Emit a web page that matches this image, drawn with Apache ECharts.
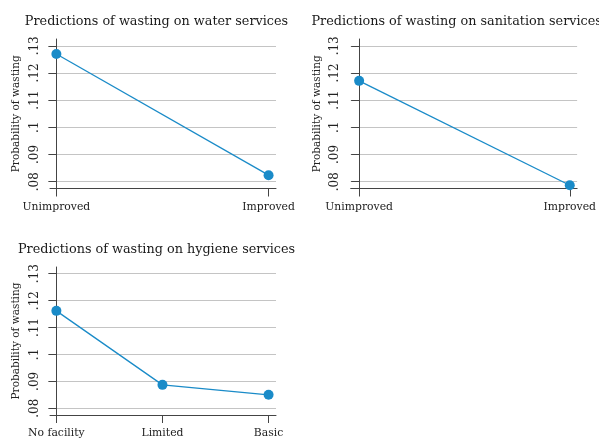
<!DOCTYPE html>
<html>
<head>
<meta charset="utf-8">
<script src="https://cdn.jsdelivr.net/npm/echarts@6/dist/echarts.min.js"></script>
<style>
  html, body { margin: 0; padding: 0; background: #fff; }
  #chart { width: 599px; height: 439px; }
</style>
</head>
<body>
<div id="chart"></div>
<script>
// titles of the three panels
const titles = [
  'Predictions of wasting on water services',
  'Predictions of wasting on sanitation services',
  'Predictions of wasting on hygiene services'
]
// categories and predicted probabilities
const waterCats = ['Unimproved', 'Improved']
const waterVals = [0.127, 0.0824]
const sanitCats = ['Unimproved', 'Improved']
const sanitVals = [0.1171, 0.0787]
const hygieneCats = ['No facility', 'Limited', 'Basic']
const hygieneVals = [0.1162, 0.0887, 0.0850]
// y tick values
const yTicks = [0.08, 0.09, 0.10, 0.11, 0.12, 0.13]
const yName = 'Probability of wasting'

const blue = '#1a8bc8'
const serif = 'DejaVu Serif'

let myChart = echarts.init(document.getElementById('chart'))

//each panel: grid position and x range
const panels = [
  { cats: waterCats, vals: waterVals, grid: { left: 50, top: 39, width: 226, height: 149.5 }, xmin: -0.03, xmax: 1.035 },
  { cats: sanitCats, vals: sanitVals, grid: { left: 350.7, top: 39, width: 227.3, height: 149.5 }, xmin: -0.04, xmax: 1.035 },
  { cats: hygieneCats, vals: hygieneVals, grid: { left: 50, top: 267, width: 226, height: 149.5 }, xmin: -0.03, xmax: 1.035 }
]

//x position of each category, spread over 0..1
function xPos(n, i) {
  return n === 1 ? 0 : i / (n - 1)
}

const fmtY = v => String(Math.round(v * 100) / 100).replace(/^0/, '')

const titleStyle = { fontFamily: serif, fontSize: 12.8, fontWeight: 'normal', color: '#1a1a1a' }

myChart.setOption({
  animation: false,
  title: [
    { text: titles[0], left: 151.5, top: 10, textAlign: 'center', textStyle: titleStyle },
    { text: titles[1], left: 306.5, top: 10, textStyle: titleStyle },
    { text: titles[2], left: 151.5, top: 238, textAlign: 'center', textStyle: titleStyle }
  ],
  grid: panels.map(p => Object.assign({ containLabel: false }, p.grid)),
  xAxis: panels.map((p, k) => ({
    type: 'value',
    gridIndex: k,
    min: p.xmin,
    max: p.xmax,
    axisLine: { show: true, onZero: false, lineStyle: { color: '#444', width: 1 } },
    axisTick: { show: true, length: 8, customValues: p.cats.map((c, i) => xPos(p.cats.length, i)),
      lineStyle: { color: '#444' } },
    axisLabel: {
      customValues: p.cats.map((c, i) => xPos(p.cats.length, i)),
      formatter: v => p.cats[Math.round(v * (p.cats.length - 1))],
      fontFamily: serif, fontSize: 10.8, color: '#222', margin: 13
    },
    splitLine: { show: false }
  })),
  yAxis: panels.map((p, k) => ({
    type: 'value',
    gridIndex: k,
    min: 0.0775,
    max: 0.1325,
    name: yName,
    nameLocation: 'middle',
    nameRotate: 90,
    nameGap: 28,
    nameTextStyle: { fontFamily: serif, fontSize: 10.5, color: '#222' },
    axisLine: { show: true, lineStyle: { color: '#444', width: 1 } },
    axisTick: { show: true, length: 8, customValues: yTicks, lineStyle: { color: '#444' } },
    axisLabel: { customValues: yTicks, formatter: fmtY, rotate: 90, margin: 9.5,
      fontFamily: serif, fontSize: 12, color: '#222' },
    splitLine: { show: true, lineStyle: { color: '#c4c4c4', width: 1 } }
  })),
  series: panels.map((p, k) => ({
    type: 'line',
    xAxisIndex: k,
    yAxisIndex: k,
    data: p.vals.map((v, i) => [xPos(p.cats.length, i), v]),
    symbol: 'circle',
    symbolSize: 10,
    lineStyle: { color: blue, width: 1.3 },
    itemStyle: { color: blue },
    z: 5
  }))
})
</script>
</body>
</html>
